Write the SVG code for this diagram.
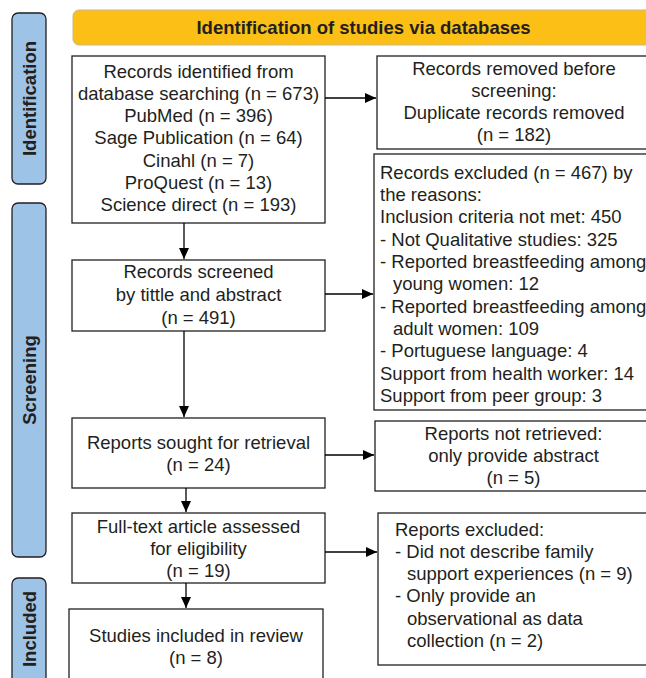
<svg xmlns="http://www.w3.org/2000/svg" width="646" height="678" viewBox="0 0 646 678">
<style>
.t{font-family:"Liberation Sans",Arial,sans-serif;font-size:18.5px;fill:#231f20}
.c{text-anchor:middle}
.b{font-weight:bold}
.box{fill:#fff;stroke:#231f20;stroke-width:1.3}
.side{fill:#9dc3e6;stroke:#231f20;stroke-width:1.3}
.con{stroke:#000;stroke-width:1.3;fill:none;marker-end:url(#ah)}
</style>
<defs>
<marker id="ah" markerUnits="userSpaceOnUse" markerWidth="12" markerHeight="10" refX="11" refY="5" orient="auto">
<path d="M0,0 L11,5 L0,10 Z" fill="#000"/>
</marker>
</defs>
<rect width="646" height="678" fill="#fff"/>

<g id="side-identification">
<rect class="side" x="12" y="13" width="34" height="171" rx="6"/>
<text class="t b c" transform="translate(35.5,98.5) rotate(-90)">Identification</text>
</g>
<g id="side-screening">
<rect class="side" x="12" y="203" width="34" height="354" rx="6"/>
<text class="t b c" transform="translate(35.5,380) rotate(-90)">Screening</text>
</g>
<g id="side-included">
<rect class="side" x="12" y="578" width="34" height="120" rx="6"/>
<text class="t b c" transform="translate(35.5,629) rotate(-90)">Included</text>
</g>

<g id="header">
<rect x="73" y="10" width="600" height="35" rx="6" fill="#fbbf15" stroke="#c8b88a" stroke-width="1"/>
<text class="t b c" x="363.5" y="33.5">Identification of studies via databases</text>
</g>

<g id="records-identified">
<rect class="box" x="72" y="56" width="253" height="167"/>
<text class="t c" x="198.5" y="77.5">Records identified from</text>
<text class="t c" x="198.5" y="99.8">database searching (n = 673)</text>
<text class="t c" x="198.5" y="122.1">PubMed (n = 396)</text>
<text class="t c" x="198.5" y="144.4">Sage Publication (n = 64)</text>
<text class="t c" x="198.5" y="166.7">Cinahl (n = 7)</text>
<text class="t c" x="198.5" y="189">ProQuest (n = 13)</text>
<text class="t c" x="198.5" y="211.3">Science direct (n = 193)</text>
</g>

<g id="records-removed">
<rect class="box" x="377" y="56" width="275" height="93"/>
<text class="t c" x="514" y="74.5">Records removed before</text>
<text class="t c" x="514" y="96.8">screening:</text>
<text class="t c" x="514" y="119.1">Duplicate records removed</text>
<text class="t c" x="514" y="141.4">(n = 182)</text>
</g>

<g id="records-excluded">
<rect class="box" x="374" y="154" width="278" height="256"/>
<text class="t" x="380" y="178.5">Records excluded (n = 467) by</text>
<text class="t" x="380" y="200.9">the reasons:</text>
<text class="t" x="380" y="223.2">Inclusion criteria not met: 450</text>
<text class="t" x="380" y="245.6">- Not Qualitative studies: 325</text>
<text class="t" x="380" y="267.9">- Reported breastfeeding among</text>
<text class="t" x="393" y="290.3">young women: 12</text>
<text class="t" x="380" y="312.6">- Reported breastfeeding among</text>
<text class="t" x="393" y="335">adult women: 109</text>
<text class="t" x="380" y="357.3">- Portuguese language: 4</text>
<text class="t" x="380" y="379.7">Support from health worker: 14</text>
<text class="t" x="380" y="402">Support from peer group: 3</text>
</g>

<g id="records-screened">
<rect class="box" x="72" y="260" width="253" height="71"/>
<text class="t c" x="198.5" y="278">Records screened</text>
<text class="t c" x="198.5" y="300.5">by tittle and abstract</text>
<text class="t c" x="198.5" y="323.5">(n = 491)</text>
</g>

<g id="reports-sought">
<rect class="box" x="72" y="418" width="253" height="70"/>
<text class="t c" x="198.5" y="448.5">Reports sought for retrieval</text>
<text class="t c" x="198.5" y="470.8">(n = 24)</text>
</g>

<g id="reports-not-retrieved">
<rect class="box" x="375" y="421" width="277" height="70"/>
<text class="t c" x="513.5" y="439.5">Reports not retrieved:</text>
<text class="t c" x="513.5" y="461.8">only provide abstract</text>
<text class="t c" x="513.5" y="484.1">(n = 5)</text>
</g>

<g id="full-text">
<rect class="box" x="72" y="513" width="253" height="70"/>
<text class="t c" x="198.5" y="532.5">Full-text article assessed</text>
<text class="t c" x="198.5" y="554.8">for eligibility</text>
<text class="t c" x="198.5" y="577.1">(n = 19)</text>
</g>

<g id="reports-excluded">
<rect class="box" x="378" y="513" width="274" height="152"/>
<text class="t" x="395" y="535.5">Reports excluded:</text>
<text class="t" x="395" y="557.8">- Did not describe family</text>
<text class="t" x="407" y="580.1">support experiences (n = 9)</text>
<text class="t" x="395" y="602.4">- Only provide an</text>
<text class="t" x="407" y="624.7">observational as data</text>
<text class="t" x="407" y="647">collection (n = 2)</text>
</g>

<g id="studies-included">
<rect class="box" x="69" y="609" width="254" height="90"/>
<text class="t c" x="196" y="641.5">Studies included in review</text>
<text class="t c" x="196" y="663.8">(n = 8)</text>
</g>

<g id="connectors">
<line class="con" x1="325" y1="98" x2="376" y2="98"/>
<line class="con" x1="184" y1="223" x2="184" y2="259"/>
<line class="con" x1="325" y1="294" x2="373" y2="294"/>
<line class="con" x1="184" y1="331" x2="184" y2="417"/>
<line class="con" x1="325" y1="455" x2="374" y2="455"/>
<line class="con" x1="186" y1="488" x2="186" y2="512"/>
<line class="con" x1="325" y1="552" x2="377" y2="552"/>
<line class="con" x1="186" y1="583" x2="186" y2="608"/>
</g>
</svg>
